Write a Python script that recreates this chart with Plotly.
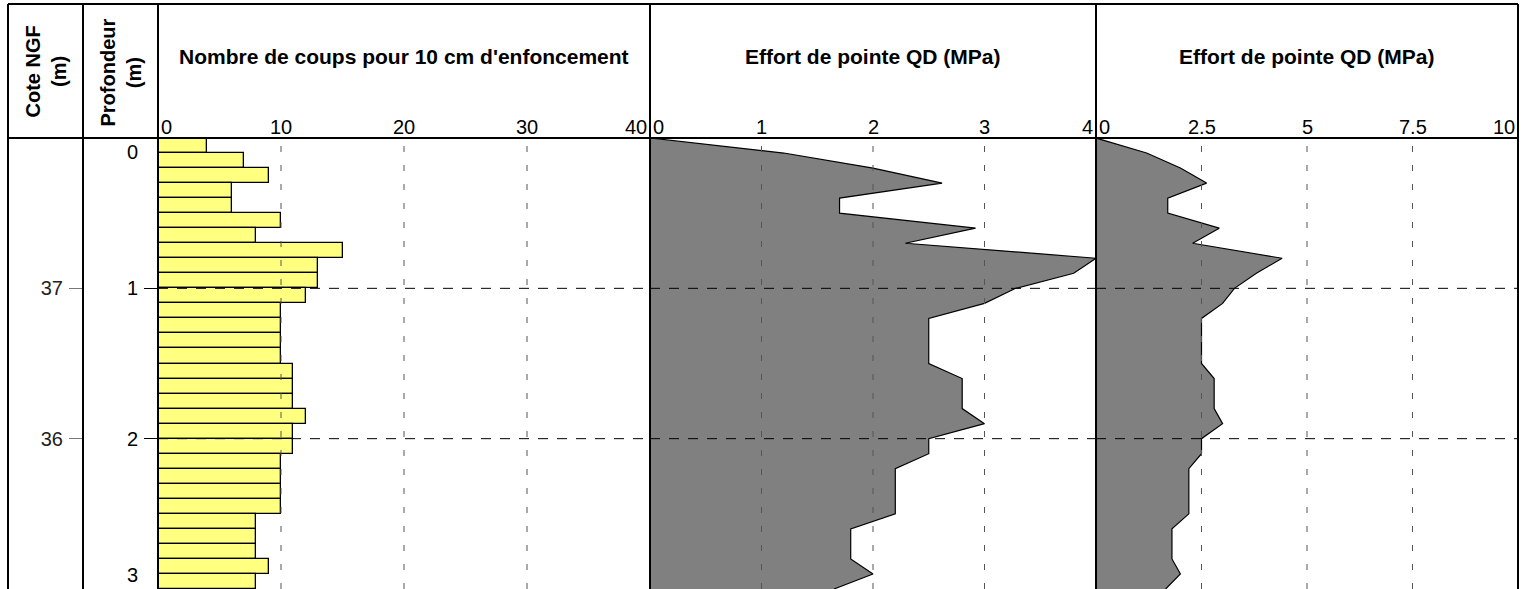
import plotly.graph_objects as go

W, H = 1526, 589
FONT = "Liberation Sans, Arial, sans-serif"

# --- data -------------------------------------------------------------
# top of each 10 cm driving interval (m)
interval_top = [0.0, 0.1, 0.2, 0.3, 0.4, 0.5, 0.6, 0.7, 0.8, 0.9,
                1.0, 1.1, 1.2, 1.3, 1.4, 1.5, 1.6, 1.7, 1.8, 1.9,
                2.0, 2.1, 2.2, 2.3, 2.4, 2.5, 2.6, 2.7, 2.8, 2.9]
interval_thickness = 0.1
# blows needed for each 10 cm of penetration
blows = [4, 7, 9, 6, 6, 10, 8, 15, 13, 13,
         12, 10, 10, 10, 10, 11, 11, 11, 12, 11,
         11, 10, 10, 10, 10, 8, 8, 8, 9, 8]

# dynamic cone resistance QD (MPa) at each depth (m)
qd_depth = [0.0, 0.1, 0.2, 0.3, 0.4, 0.5, 0.6, 0.7, 0.8, 0.9, 1.0,
            1.1, 1.2, 1.3, 1.4, 1.5, 1.6, 1.7, 1.8, 1.9, 2.0,
            2.1, 2.2, 2.3, 2.4, 2.5, 2.6, 2.7, 2.8, 2.9, 3.0]
qd = [0.0, 1.2, 2.0, 2.62, 1.7, 1.7, 2.92, 2.29, 4.41, 3.8, 3.28,
      3.0, 2.5, 2.5, 2.5, 2.5, 2.8, 2.8, 2.8, 3.0, 2.5,
      2.5, 2.2, 2.2, 2.2, 2.2, 1.8, 1.8, 1.8, 2.0, 1.65]

ground_level = 38.0          # Cote NGF at depth 0
depth_range = [3.0, 0.0]
depth_ticks = [1, 2]
ngf_ticks = [37, 36]

blow_ticks = [0, 10, 20, 30, 40]
blow_labels = ["0", "10", "20", "30", "40"]
qd_ticks_a = [0, 1, 2, 3, 4]
qd_labels_a = ["0", "1", "2", "3", "4"]
qd_ticks_b = [0, 2.5, 5, 7.5, 10]
qd_labels_b = ["0", "2.5", "5", "7.5", "10"]

titles = ["Nombre de coups pour 10 cm d'enfoncement",
          "Effort de pointe QD (MPa)",
          "Effort de pointe QD (MPa)"]


def px(x):
    return x / W


def py(y):
    return 1 - y / H


# column edges (px) and header line
X_LEFT, X_NGF, X_DEPTH, X_P1, X_P2, X_RIGHT = 8, 83, 158, 650, 1096, 1518
Y_TOP, Y_HEAD = 4, 138

fig = go.Figure()

fig.add_trace(go.Bar(
    x=blows,
    y=[t + interval_thickness / 2 for t in interval_top],
    width=interval_thickness,
    orientation="h",
    marker=dict(color="#FFFF80", line=dict(color="black", width=1.3)),
    xaxis="x", yaxis="y", showlegend=False, hoverinfo="skip",
))

qd_max_a = qd_ticks_a[-1]
fig.add_trace(go.Scatter(
    x=[min(v, qd_max_a) for v in qd], y=qd_depth,
    mode="lines", fill="tozerox", fillcolor="#808080",
    line=dict(color="black", width=1.2),
    xaxis="x2", yaxis="y", showlegend=False, hoverinfo="skip",
))
fig.add_trace(go.Scatter(
    x=qd, y=qd_depth,
    mode="lines", fill="tozerox", fillcolor="#808080",
    line=dict(color="black", width=1.2),
    xaxis="x3", yaxis="y", showlegend=False, hoverinfo="skip",
))
# elevation scale (Cote NGF) tied to ground level
fig.add_trace(go.Scatter(
    x=[0], y=[ground_level], mode="markers", marker=dict(opacity=0),
    xaxis="x", yaxis="y4", showlegend=False, hoverinfo="skip",
))

xcommon = dict(anchor="y", showgrid=False, zeroline=False, showticklabels=False,
               ticks="", showline=False, fixedrange=True)
panels = [("x", [X_DEPTH, X_P1], blow_ticks, blow_labels),
          ("x2", [X_P1, X_P2], qd_ticks_a, qd_labels_a),
          ("x3", [X_P2, X_RIGHT], qd_ticks_b, qd_labels_b)]

layout = dict(
    width=W, height=H, margin=dict(l=0, r=0, t=0, b=0),
    paper_bgcolor="white", plot_bgcolor="white",
    font=dict(family=FONT, color="black"),
    bargap=0, showlegend=False,
    yaxis=dict(domain=[0, py(Y_HEAD)], range=depth_range, anchor="x",
               tickvals=depth_ticks, ticks="outside", ticklen=13,
               tickcolor="black", tickwidth=1, ticklabelstandoff=2,
               tickfont=dict(size=20, family=FONT),
               showgrid=False, zeroline=False, showline=False, fixedrange=True),
    yaxis4=dict(overlaying="y", anchor="free", position=px(X_NGF), side="left",
                range=[ground_level - depth_range[0], ground_level - depth_range[1]],
                tickvals=ngf_ticks, ticks="outside", ticklen=14,
                tickcolor="#777777", tickwidth=1, ticklabelstandoff=2,
                tickfont=dict(size=20, family=FONT, color="#222222"),
                showgrid=False, zeroline=False, showline=False, fixedrange=True),
)
for name, (a, b), ticks, _ in panels:
    key = "xaxis" if name == "x" else "xaxis" + name[1:]
    layout[key] = dict(domain=[px(a), px(b)], range=[ticks[0], ticks[-1]], **xcommon)

shapes = []
annotations = []
for (name, _, ticks, labels), title in zip(panels, titles):
    # vertical dashed grid
    for t in ticks[1:-1]:
        shapes.append(dict(type="line", xref=name, yref="y domain",
                           x0=t, x1=t, y0=0, y1=1, layer="above",
                           line=dict(color="#555555", width=1, dash="6px,13px")))
    # horizontal dashed grid at whole metres
    for d in depth_ticks:
        shapes.append(dict(type="line", xref=name + " domain", yref="y",
                           x0=0, x1=1, y0=d, y1=d, layer="above",
                           line=dict(color="black", width=1, dash="10px,9px")))
    # scale labels along the header line
    for i, (t, lab) in enumerate(zip(ticks, labels)):
        if i == 0:
            anchor, shift = "left", 1
        elif i == len(ticks) - 1:
            anchor, shift = "right", -1
        else:
            anchor, shift = "center", 0
        annotations.append(dict(xref=name, yref="paper", x=t, y=py(127),
                                text=lab, showarrow=False, xanchor=anchor,
                                yanchor="middle", xshift=shift,
                                font=dict(size=20, family=FONT)))
    annotations.append(dict(xref=name + " domain", yref="paper", x=0.5, y=py(56),
                            text=title, showarrow=False, xanchor="center",
                            yanchor="middle",
                            font=dict(size=21, family=FONT, weight="bold")))

# column headers on the left
for x0, x1, label in [(X_LEFT, X_NGF, "Cote NGF<br>(m)"),
                      (X_NGF, X_DEPTH, "Profondeur<br>(m)")]:
    annotations.append(dict(xref="paper", yref="paper", x=px((x0 + x1) / 2),
                            y=py((Y_TOP + Y_HEAD) / 2 + 1), text=label,
                            textangle=-90, showarrow=False,
                            xanchor="center", yanchor="middle",
                            font=dict(size=20, family=FONT, weight="bold")))
# depth labels at the ends of the scale
annotations.append(dict(xref="paper", yref="y", x=px(140), y=depth_range[1],
                        text="0", showarrow=False, xanchor="right", yanchor="top",
                        yshift=-1, font=dict(size=20, family=FONT)))
annotations.append(dict(xref="paper", yref="y", x=px(140), y=depth_range[0],
                        text="3", showarrow=False, xanchor="right", yanchor="bottom",
                        yshift=1, font=dict(size=20, family=FONT)))

# table frame
frame = dict(color="black", width=2)
for x in [X_LEFT, X_NGF, X_DEPTH, X_P1, X_P2, X_RIGHT]:
    shapes.append(dict(type="line", xref="paper", yref="paper",
                       x0=px(x), x1=px(x), y0=0, y1=py(Y_TOP), line=frame,
                       layer="above"))
for y in [Y_TOP, Y_HEAD]:
    shapes.append(dict(type="line", xref="paper", yref="paper",
                       x0=px(X_LEFT), x1=px(X_RIGHT), y0=py(y), y1=py(y),
                       line=frame, layer="above"))

layout["shapes"] = shapes
layout["annotations"] = annotations
fig.update_layout(**layout)

fig.write_html("out.html")
